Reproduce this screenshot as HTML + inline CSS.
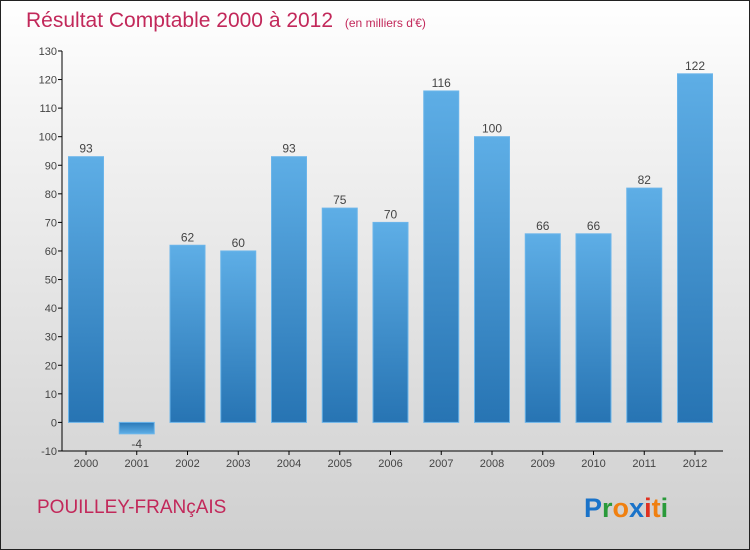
<!DOCTYPE html>
<html><head><meta charset="utf-8"><style>
body{margin:0;}
#c{width:748px;height:548px;border:1px solid #222;background:linear-gradient(#ffffff,#f4f4f4 20%,#cfcfcf);position:relative;font-family:"Liberation Sans",sans-serif;}
</style></head><body>
<div id="c">
<svg id="s" width="748" height="548" style="position:absolute;left:0;top:0">
<defs>
<linearGradient id="g" x1="0" y1="0" x2="0" y2="1"><stop offset="0" stop-color="#5eaee6"/><stop offset="1" stop-color="#2774b3"/></linearGradient>
<linearGradient id="gn" x1="0" y1="0" x2="0" y2="1"><stop offset="0" stop-color="#2a78b8"/><stop offset="1" stop-color="#5eaee6"/></linearGradient>
</defs>
<text x="25" y="26" font-size="21" fill="#c2285a">Résultat Comptable 2000 à 2012 <tspan font-size="12" dx="6">(en milliers d'€)</tspan></text>
<text x="36" y="512" font-size="19" fill="#c2285a">POUILLEY-FRANçAIS</text>
<text x="583" y="516" font-size="27" font-weight="bold"><tspan fill="#1a73c9">P</tspan><tspan fill="#2a9a3a">r</tspan><tspan fill="#f08010">o</tspan><tspan fill="#1a73c9">x</tspan><tspan fill="#e03020">i</tspan><tspan fill="#f08010">t</tspan><tspan fill="#2a9a3a">i</tspan></text>
<g id="plot"></g>
</svg>
</div>
<script>
const years=["2000","2001","2002","2003","2004","2005","2006","2007","2008","2009","2010","2011","2012"];
const values=[93,-4,62,60,93,75,70,116,100,66,66,82,122];
const ticks=[-10,0,10,20,30,40,50,60,70,80,90,100,110,120,130];
const NS="http://www.w3.org/2000/svg";
const g=document.getElementById('plot');
const y=v=>421.4-v*(400/140);
const x=i=>85+i*50.75;
function mk(t,a){const e=document.createElementNS(NS,t);for(const k in a)e.setAttribute(k,a[k]);g.appendChild(e);return e;}
ticks.forEach(t=>{
 const l=mk('line',{x1:57,x2:61,y1:y(t),y2:y(t),stroke:'#000'});
 
 
 const tx=mk('text',{x:56,y:y(t)+4,'text-anchor':'end','font-size':11,fill:'#444'});
 tx.textContent=t;
 
 
});
values.forEach((v,i)=>{
 const top=Math.min(y(v),y(0)),h=Math.abs(y(v)-y(0));
 const r=mk('rect',{x:x(i)-17.5,y:top,width:35,height:h,fill:v<0?'url(#gn)':'url(#g)',stroke:'#6bb5ea','stroke-width':1});
 
 
 const lb=mk('text',{x:x(i),y:v<0?y(v)+14:y(v)-4,'text-anchor':'middle','font-size':12,fill:'#444'});
 lb.textContent=v;
 
 
 const tk=mk('line',{x1:x(i),x2:x(i),y1:450,y2:454,stroke:'#000'});
 
 
 const xl=mk('text',{x:x(i),y:466,'text-anchor':'middle','font-size':11,fill:'#444'});
 xl.textContent=years[i];
 
 
});
const ya=mk('line',{x1:61,x2:61,y1:y(130),y2:450,stroke:'#000'});


const xa=mk('line',{x1:61,x2:722,y1:450,y2:450,stroke:'#000'});


</script>
</body></html>
